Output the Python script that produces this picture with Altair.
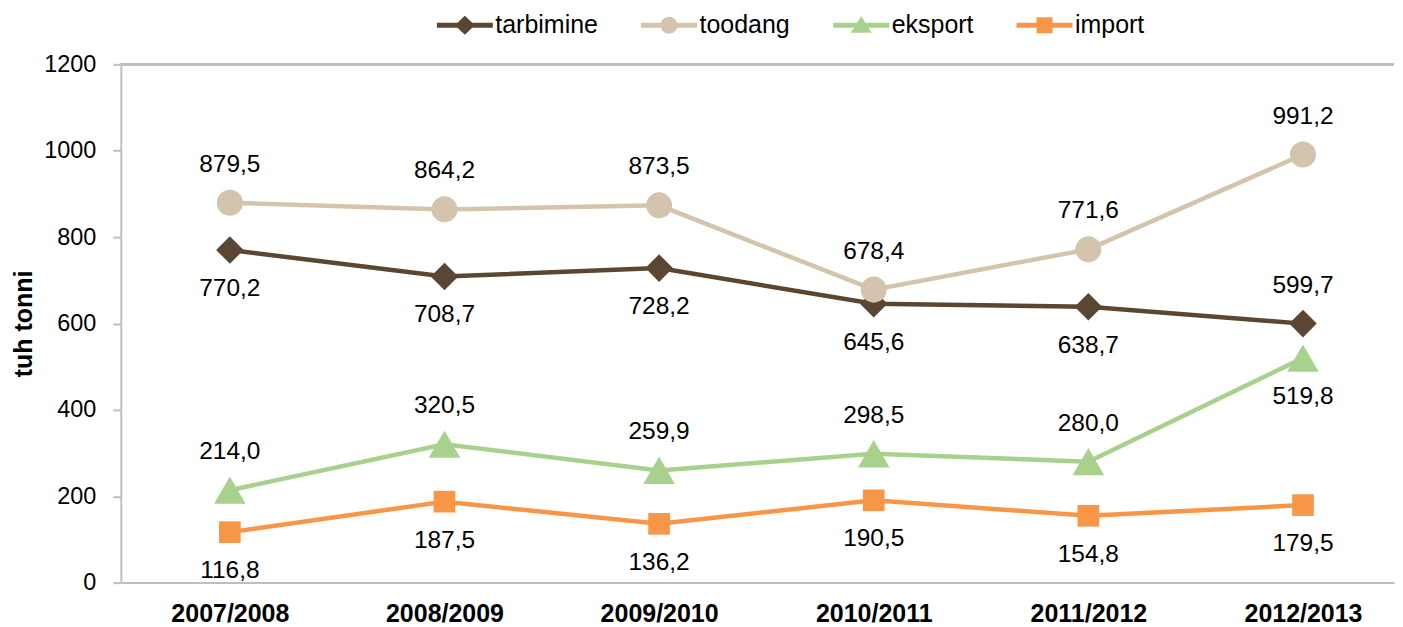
import altair as alt
import pandas as pd

seasons = ["2007/2008", "2008/2009", "2009/2010", "2010/2011", "2011/2012", "2012/2013"]
series_names = ["tarbimine", "toodang", "eksport", "import"]
tarbimine = [770.2, 708.7, 728.2, 645.6, 638.7, 599.7]
toodang = [879.5, 864.2, 873.5, 678.4, 771.6, 991.2]
eksport = [214.0, 320.5, 259.9, 298.5, 280.0, 519.8]
import_vals = [116.8, 187.5, 136.2, 190.5, 154.8, 179.5]
label_side = {
    "tarbimine": ["below", "below", "below", "below", "below", "above"],
    "toodang": ["above", "above", "above", "above", "above", "above"],
    "eksport": ["above", "above", "above", "above", "above", "below"],
    "import": ["below", "below", "below", "below", "below", "below"],
}
colors = ["#5B4633", "#D5C4AD", "#A9D18E", "#F79646"]
marker_shapes = ["diamond", "circle", "triangle-up", "square"]
marker_sizes = [760, 680, 1000, 470]

# legend symbols: line segment + marker drawn as one filled path (unit = 10 px)
LEG_LINE = "M-1,-0.25L4.6,-0.25L4.6,0.25L-1,0.25Z "
legend_paths = [
    LEG_LINE + "M1.8,-0.95L2.8,0L1.8,0.95L0.8,0Z",
    LEG_LINE + "M0.95,0A0.85,0.85 0 1,1 2.65,0A0.85,0.85 0 1,1 0.95,0Z",
    LEG_LINE + "M1.8,-0.9L2.85,0.75L0.75,0.75Z",
    LEG_LINE + "M1.0,-0.8L2.6,-0.8L2.6,0.8L1.0,0.8Z",
]

values = {"tarbimine": tarbimine, "toodang": toodang, "eksport": eksport, "import": import_vals}
rows = []
for s in series_names:
    for i, season in enumerate(seasons):
        v = values[s][i]
        rows.append({
            "series": s,
            "season": season,
            "value": v,
            "label": f"{v:.1f}".replace(".", ","),
            "side": label_side[s][i],
        })
df = pd.DataFrame(rows)

FONT = "Liberation Sans"
AXIS_GRAY = "#BFBFBF"

x_enc = alt.X(
    "season:N",
    sort=seasons,
    scale=alt.Scale(type="point", padding=0.466, align=0.545),
    axis=alt.Axis(
        title=None, labelAngle=0, labelFont=FONT, labelFontSize=25,
        labelFontWeight="bold", labelColor="black", ticks=False,
        domainColor=AXIS_GRAY, domainWidth=2, labelPadding=19,
    ),
)
y_enc = alt.Y(
    "value:Q",
    scale=alt.Scale(domain=[0, 1200], nice=False),
    axis=alt.Axis(
        values=[0, 200, 400, 600, 800, 1000, 1200], format="d", title="tuh tonni",
        grid=False, tickSize=8, tickColor=AXIS_GRAY, tickWidth=2,
        domainColor=AXIS_GRAY, domainWidth=2, labelFont=FONT,
        labelFontSize=23.5, labelColor="black", labelPadding=17,
        titleFont=FONT, titleFontSize=25, titleFontWeight="bold",
        titleColor="black", titlePadding=7,
    ),
)
color_scale = alt.Scale(domain=series_names, range=colors)

base = alt.Chart(df)

top_rule = base.mark_rule(color=AXIS_GRAY, strokeWidth=2).encode(
    y=alt.datum(1200)
)

legend_spec = alt.Legend(
    title=None, orient="none", legendX=314, legendY=-52,
    direction="horizontal", symbolSize=400, symbolStrokeWidth=0,
    symbolOpacity=1, labelFont=FONT, labelFontSize=25, labelColor="black",
    labelOffset=36, columnPadding=40.5, padding=0,
)
legend_layer = base.mark_point(filled=True, size=4).encode(
    x=x_enc, y=y_enc,
    color=alt.Color("series:N", scale=color_scale, legend=legend_spec),
    shape=alt.Shape("series:N", scale=alt.Scale(domain=series_names, range=legend_paths),
                     legend=legend_spec),
)

lines = base.mark_line(strokeWidth=4.5).encode(
    x=x_enc, y=y_enc,
    color=alt.Color("series:N", scale=color_scale, legend=None),
    detail="series:N",
)

marker_layers = []
for s, shp, sz in zip(series_names, marker_shapes, marker_sizes):
    marker_layers.append(
        base.transform_filter(alt.datum.series == s)
        .mark_point(shape=shp, filled=True, size=sz, opacity=1)
        .encode(x=x_enc, y=y_enc,
                color=alt.Color("series:N", scale=color_scale, legend=None))
    )

text_above = base.transform_filter(alt.datum.side == "above").mark_text(
    dy=-38, font=FONT, fontSize=24.5, color="black"
).encode(x=x_enc, y=y_enc, text="label:N")
text_below = base.transform_filter(alt.datum.side == "below").mark_text(
    dy=39, font=FONT, fontSize=24.5, color="black"
).encode(x=x_enc, y=y_enc, text="label:N")

chart = alt.layer(
    top_rule, legend_layer, lines, *marker_layers, text_above, text_below
).properties(
    width=1275, height=519,
    padding={"left": 3, "top": 4, "right": 0, "bottom": 0},
    background="white",
).configure_view(stroke=None)

chart.save("out.html", embed_options={"renderer": "svg", "actions": False})
